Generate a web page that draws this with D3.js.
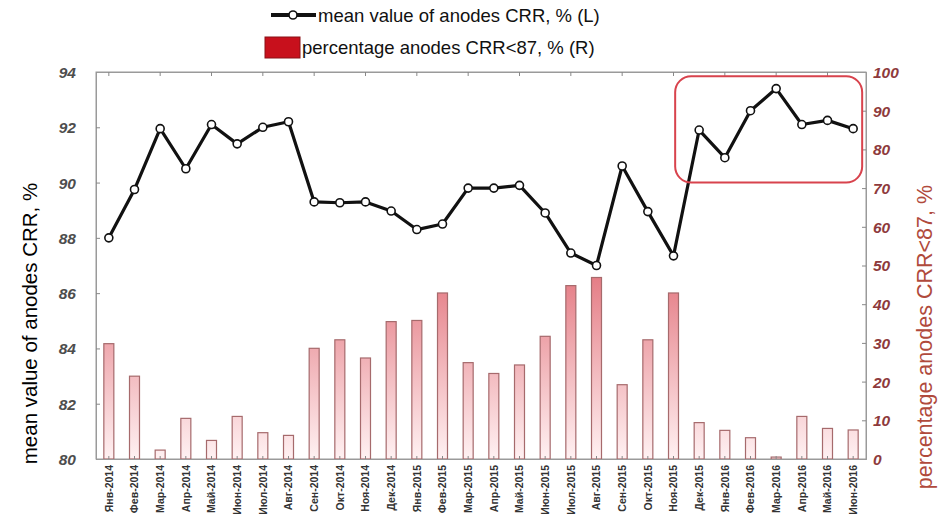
<!DOCTYPE html>
<html>
<head>
<meta charset="utf-8">
<script src="https://cdn.jsdelivr.net/npm/d3@7"></script>
<style>
	body { margin: 0; background: #fff; }
	text { font-family: "Liberation Sans", Arial, sans-serif; }
</style>
</head>
<body>
<script>
// categories (month labels as printed under the axis)
let months = ["Янв-2014", "Фев-2014", "Мар-2014", "Апр-2014", "Май-2014", "Июн-2014", "Июл-2014", "Авг-2014",
	"Сен-2014", "Окт-2014", "Ноя-2014", "Дек-2014", "Янв-2015", "Фев-2015", "Мар-2015", "Апр-2015",
	"Май-2015", "Июн-2015", "Июл-2015", "Авг-2015", "Сен-2015", "Окт-2015", "Ноя-2015", "Дек-2015",
	"Янв-2016", "Фев-2016", "Мар-2016", "Апр-2016", "Май-2016", "Июн-2016"];

// mean value of anodes CRR, % (left axis)
let meanCRR = [88.0, 89.75, 91.95, 90.5, 92.1, 91.4, 92.0, 92.2, 89.3, 89.27, 89.3, 88.97, 88.3, 88.5, 89.8,
	89.8, 89.9, 88.9, 87.45, 87.0, 90.6, 88.95, 87.35, 91.9, 90.9, 92.6, 93.4, 92.1, 92.25, 91.95];

// percentage anodes CRR<87, % (right axis)
let pctBelow87 = [29.8, 21.4, 2.3, 10.5, 4.8, 11.0, 6.8, 6.1, 28.6, 30.8, 26.1, 35.5, 35.8, 42.9, 24.9,
	22.1, 24.3, 31.7, 44.8, 46.9, 19.2, 30.8, 42.9, 9.4, 7.4, 5.5, 0.5, 11.0, 7.9, 7.5];

let leftTicks = [80, 82, 84, 86, 88, 90, 92, 94];
let rightTicks = [0, 10, 20, 30, 40, 50, 60, 70, 80, 90, 100];

let legendLabels = ["mean value of anodes CRR, % (L)", "percentage anodes CRR<87, % (R)"];
let axisTitles = ["mean value of anodes CRR, %", "percentage anodes CRR<87, %"];

// highlighted period (red rounded box)
let highlightFrom = "Дек-2015", highlightTo = "Июн-2016";

let width = 939, height = 521;
let margin = {top: 72, right: 73, bottom: 62, left: 96};

let svg = d3.select("body").append("svg")
	.attr("width", width)
	.attr("height", height);

let x = d3.scaleBand()
	.domain(months)
	.range([margin.left, width - margin.right]);

let yL = d3.scaleLinear()
	.domain([80, 94])
	.range([height - margin.bottom, margin.top]);

let yR = d3.scaleLinear()
	.domain([0, 100])
	.range([height - margin.bottom, margin.top]);

let cx = d => x(d) + x.bandwidth() / 2;

// bar gradient, dark at the top of the plot, pale at the base
let grad = svg.append("defs").append("linearGradient")
	.attr("id", "barGrad")
	.attr("gradientUnits", "userSpaceOnUse")
	.attr("x1", 0).attr("x2", 0)
	.attr("y1", yR(50)).attr("y2", yR(0));
grad.append("stop").attr("offset", "0%").attr("stop-color", "#e3767f");
grad.append("stop").attr("offset", "100%").attr("stop-color", "#fff1f2");

// plot frame
svg.append("rect")
	.attr("x", margin.left)
	.attr("y", margin.top)
	.attr("width", width - margin.left - margin.right)
	.attr("height", height - margin.top - margin.bottom)
	.attr("fill", "none")
	.attr("stroke", "#9a9a9a");

// bars
let barW = 10;
svg.selectAll(".bar")
	.data(pctBelow87)
	.join("rect")
	.attr("class", "bar")
	.attr("x", (d, i) => cx(months[i]) - barW / 2)
	.attr("y", d => yR(d))
	.attr("width", barW)
	.attr("height", d => yR(0) - yR(d))
	.attr("fill", "url(#barGrad)")
	.attr("stroke", "#a66a6c")
	.attr("stroke-width", 1.2);

// axes (inward ticks)
let leftAxis = d3.axisLeft(yL).tickValues(leftTicks).tickSize(-4).tickFormat(d3.format("d"));
let rightAxis = d3.axisRight(yR).tickValues(rightTicks).tickSize(-4).tickFormat(d3.format("d"));
let bottomAxis = d3.axisBottom(x).tickSize(-3);
let topAxis = d3.axisTop(x).tickValues(months.filter((m, i) => i % 2 === 0)).tickSize(-4).tickFormat("");

let gL = svg.append("g").attr("transform", `translate(${margin.left},0)`).call(leftAxis);
gL.selectAll("text")
	.attr("x", -20)
	.attr("dy", "0.35em")
	.style("font-size", "15.5px")
	.style("font-weight", "bold")
	.style("font-style", "italic")
	.attr("fill", "#4d4d4d");

let gR = svg.append("g").attr("transform", `translate(${width - margin.right},0)`).call(rightAxis);
gR.selectAll("text")
	.attr("x", 7)
	.attr("dy", "0.35em")
	.style("font-size", "15.5px")
	.style("font-weight", "bold")
	.style("font-style", "italic")
	.attr("fill", "#8e3a3c");

let gB = svg.append("g").attr("transform", `translate(0,${height - margin.bottom})`).call(bottomAxis);
gB.selectAll("text")
	.attr("transform", "rotate(-90)")
	.attr("text-anchor", "end")
	.attr("x", -6)
	.attr("y", 0)
	.attr("dy", "0.35em")
	.style("font-size", "10.5px")
	.style("font-weight", "bold")
	.attr("fill", "#333");

let gT = svg.append("g").attr("transform", `translate(0,${margin.top})`).call(topAxis);

[gL, gR, gB, gT].forEach(g => {
	g.select(".domain").attr("stroke", "#9a9a9a");
	g.selectAll(".tick line").attr("stroke", "#888");
});

// line series
let line = d3.line()
	.x((d, i) => cx(months[i]))
	.y(d => yL(d));

svg.append("path")
	.datum(meanCRR)
	.attr("d", line)
	.attr("fill", "none")
	.attr("stroke", "#111")
	.attr("stroke-width", 3.2)
	.attr("stroke-linejoin", "round");

svg.selectAll(".pt")
	.data(meanCRR)
	.join("circle")
	.attr("class", "pt")
	.attr("cx", (d, i) => cx(months[i]))
	.attr("cy", d => yL(d))
	.attr("r", 4)
	.attr("fill", "#fff")
	.attr("stroke", "#111")
	.attr("stroke-width", 1.6);

// highlight box
let hx0 = cx(highlightFrom) - 24;
let hx1 = cx(highlightTo) + 9;
svg.append("rect")
	.attr("x", hx0)
	.attr("y", yL(93.85))
	.attr("width", hx1 - hx0)
	.attr("height", yL(90.0) - yL(93.85))
	.attr("rx", 16)
	.attr("fill", "none")
	.attr("stroke", "#d8434d")
	.attr("stroke-width", 2);

// legend
let lg = svg.append("g");
lg.append("line")
	.attr("x1", 271).attr("x2", 316)
	.attr("y1", 15).attr("y2", 15)
	.attr("stroke", "#111").attr("stroke-width", 4);
lg.append("circle")
	.attr("cx", 293).attr("cy", 15).attr("r", 4)
	.attr("fill", "#fff").attr("stroke", "#111").attr("stroke-width", 1.6);
lg.append("text")
	.attr("x", 318).attr("y", 22)
	.style("font-size", "18.5px")
	.attr("fill", "#111")
	.text(legendLabels[0]);
lg.append("rect")
	.attr("x", 265).attr("y", 37)
	.attr("width", 35).attr("height", 21)
	.attr("fill", "#c8101c")
	.attr("stroke", "#8a1016");
lg.append("text")
	.attr("x", 302).attr("y", 54)
	.style("font-size", "18.5px")
	.attr("fill", "#111")
	.text(legendLabels[1]);

// axis titles
svg.append("text")
	.attr("transform", `translate(37,${(yL(80) + yL(94)) / 2 + 58}) rotate(-90)`)
	.attr("text-anchor", "middle")
	.style("font-size", "20.5px")
	.attr("fill", "#000")
	.text(axisTitles[0]);

svg.append("text")
	.attr("transform", `translate(932,185) rotate(-90)`)
	.attr("text-anchor", "end")
	.style("font-size", "21.5px")
	.attr("fill", "#b04a3c")
	.text(axisTitles[1]);
</script>
</body>
</html>
